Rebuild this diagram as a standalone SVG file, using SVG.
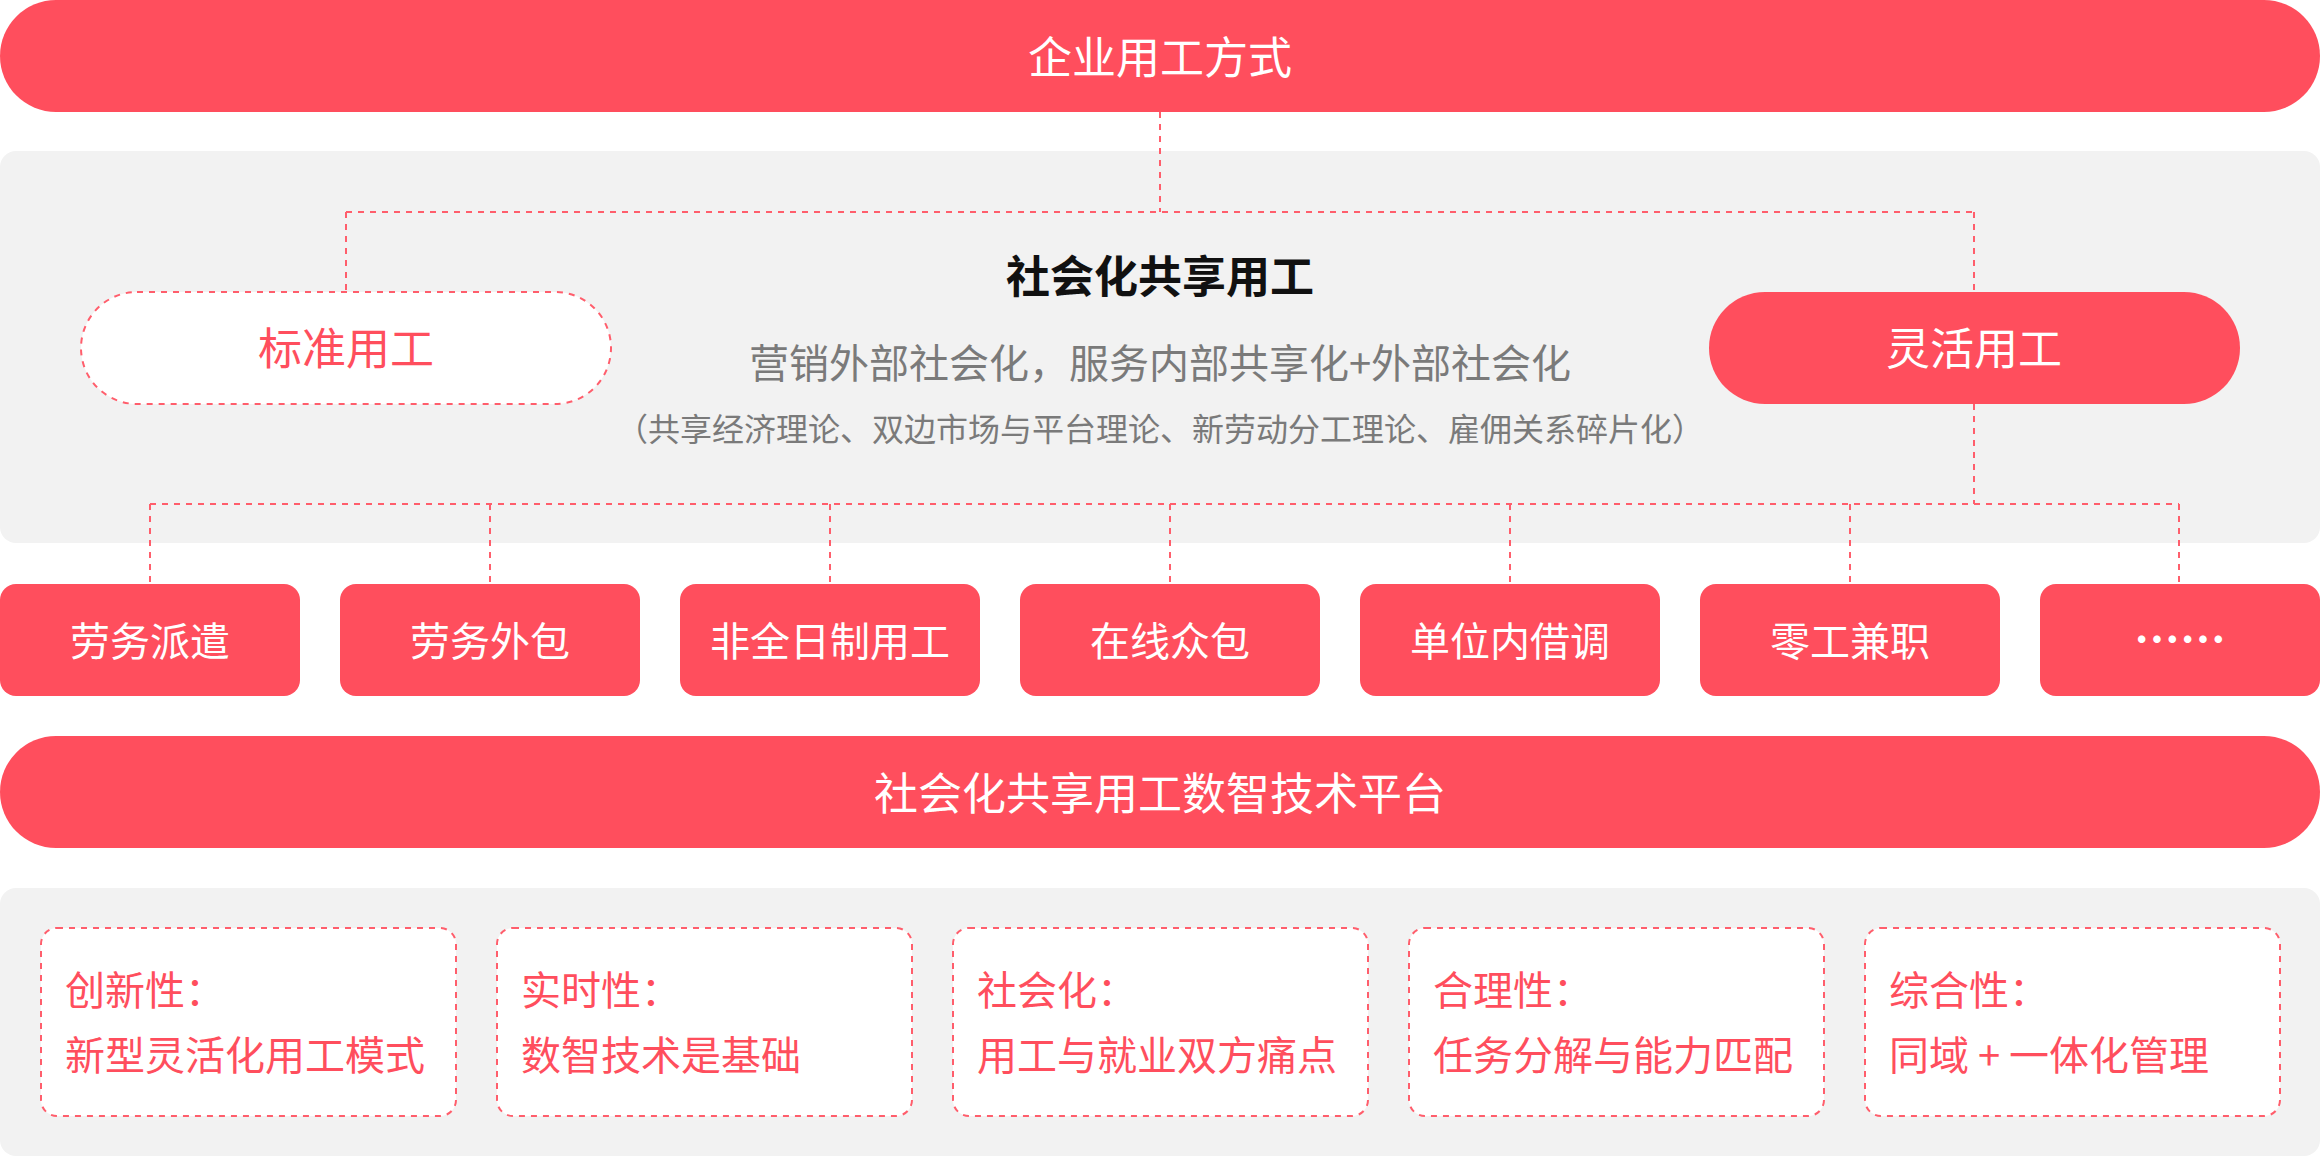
<svg xmlns="http://www.w3.org/2000/svg" width="2320" height="1156" viewBox="0 0 2320 1156">
<style>
text{font-family:"Noto Sans CJK SC","Noto Sans",sans-serif;}
.red{fill:#ff4e5d;}
.panel{fill:#f2f2f2;}
.dash{fill:none;stroke:#ff5e6c;stroke-width:2;stroke-dasharray:6 6;}
.wt{fill:#ffffff;text-anchor:middle;}
.big{font-size:44px;}
.mid{font-size:40px;}
.card{fill:#ffffff;stroke:#ff5e6c;stroke-width:2;stroke-dasharray:6 6;}
.ct{fill:#ff4e5d;font-size:40px;}
</style>
<rect class="panel" x="0" y="151" width="2320" height="392" rx="16"/>
<rect class="panel" x="0" y="888" width="2320" height="268" rx="16"/>
<g id="connectors">
<path class="dash" d="M1160 112V212M346 212H1974M346 212V292M1974 212V292"/>
<path class="dash" d="M1974 404V504M150 504H2179M150 504V584M490 504V584M830 504V584M1170 504V584M1510 504V584M1850 504V584M2179 504V584"/>
</g>
<g id="top">
<rect class="red" x="0" y="0" width="2320" height="112" rx="56"/>
<text class="wt big" x="1160" y="74">企业用工方式</text>
</g>
<g id="center-text">
<text x="1160" y="293" font-size="44" font-weight="bold" fill="#111111" text-anchor="middle">社会化共享用工</text>
<text x="1160" y="378" font-size="40" fill="#7a7a7a" text-anchor="middle">营销外部社会化，服务内部共享化+外部社会化</text>
<text x="1160" y="441" font-size="32" fill="#7a7a7a" text-anchor="middle">（共享经济理论、双边市场与平台理论、新劳动分工理论、雇佣关系碎片化）</text>
</g>
<g id="standard">
<rect x="81" y="292" width="530" height="112" rx="56" fill="#ffffff" stroke="#ff5e6c" stroke-width="2" stroke-dasharray="6 6"/>
<text x="346" y="365" font-size="44" fill="#ff4e5d" text-anchor="middle">标准用工</text>
</g>
<g id="flexible">
<rect class="red" x="1709" y="292" width="531" height="112" rx="56"/>
<text class="wt big" x="1974" y="365">灵活用工</text>
</g>
<g id="b1"><rect class="red" x="0" y="584" width="300" height="112" rx="16"/><text class="wt mid" x="150" y="656">劳务派遣</text></g>
<g id="b2"><rect class="red" x="340" y="584" width="300" height="112" rx="16"/><text class="wt mid" x="490" y="656">劳务外包</text></g>
<g id="b3"><rect class="red" x="680" y="584" width="300" height="112" rx="16"/><text class="wt mid" x="830" y="656">非全日制用工</text></g>
<g id="b4"><rect class="red" x="1020" y="584" width="300" height="112" rx="16"/><text class="wt mid" x="1170" y="656">在线众包</text></g>
<g id="b5"><rect class="red" x="1360" y="584" width="300" height="112" rx="16"/><text class="wt mid" x="1510" y="656">单位内借调</text></g>
<g id="b6"><rect class="red" x="1700" y="584" width="300" height="112" rx="16"/><text class="wt mid" x="1850" y="656">零工兼职</text></g>
<g id="b7"><rect class="red" x="2040" y="584" width="280" height="112" rx="16"/><text class="wt" x="2180" y="656" font-size="46" font-weight="bold">……</text></g>
<g id="platform">
<rect class="red" x="0" y="736" width="2320" height="112" rx="56"/>
<text class="wt big" x="1160" y="810">社会化共享用工数智技术平台</text>
</g>
<g id="c1"><rect class="card" x="41" y="928" width="415" height="188" rx="16"/><text class="ct" x="65" y="1005">创新性：</text><text class="ct" x="65" y="1070">新型灵活化用工模式</text></g>
<g id="c2"><rect class="card" x="497" y="928" width="415" height="188" rx="16"/><text class="ct" x="521" y="1005">实时性：</text><text class="ct" x="521" y="1070">数智技术是基础</text></g>
<g id="c3"><rect class="card" x="953" y="928" width="415" height="188" rx="16"/><text class="ct" x="977" y="1005">社会化：</text><text class="ct" x="977" y="1070">用工与就业双方痛点</text></g>
<g id="c4"><rect class="card" x="1409" y="928" width="415" height="188" rx="16"/><text class="ct" x="1433" y="1005">合理性：</text><text class="ct" x="1433" y="1070">任务分解与能力匹配</text></g>
<g id="c5"><rect class="card" x="1865" y="928" width="415" height="188" rx="16"/><text class="ct" x="1889" y="1005">综合性：</text><text class="ct" x="1889" y="1070">同域 + 一体化管理</text></g>
</svg>
